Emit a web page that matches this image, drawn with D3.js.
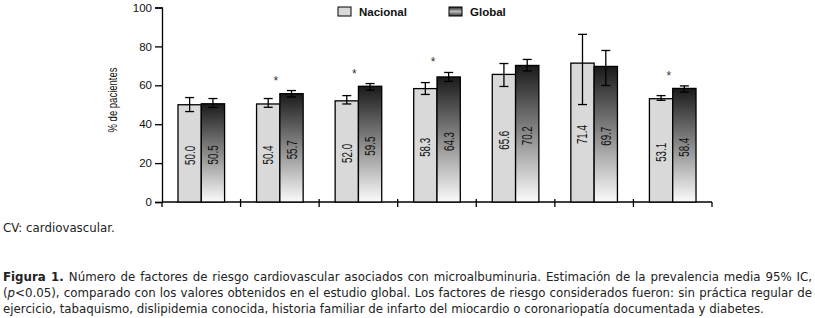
<!DOCTYPE html>
<html>
<head>
<meta charset="utf-8">
<script src="https://d3js.org/d3.v7.min.js"></script>
<style>
  body { margin: 0; background: #fff; }
  .tick-label { font-family: "Liberation Sans", Arial, sans-serif; font-size: 11.5px; fill: #111; }
  .legend-label { font-family: "Liberation Sans", Arial, sans-serif; font-size: 11.5px; font-weight: bold; fill: #111; }
  .bar-label { font-family: "Liberation Sans Narrow", "Liberation Sans", Arial, sans-serif; font-size: 15px; fill: #111; }
  .caption { font-family: "DejaVu Sans", Verdana, sans-serif; font-size: 11.8px; fill: #222; }
</style>
</head>
<body>
<div id="chart"></div>
<script>
// data
var categories = ["1", "2", "3", "4", "5", "6", "7"];
var series = ["Nacional", "Global"];
var nacional = [50.0, 50.4, 52.0, 58.3, 65.6, 71.4, 53.1];
var global = [50.5, 55.7, 59.5, 64.3, 70.2, 69.7, 58.4];
var nacionalLow = [46.5, 48.7, 50.4, 55.3, 59.4, 50.1, 52.3];
var nacionalHigh = [53.7, 53.2, 54.7, 61.4, 71.2, 86.2, 54.7];
var globalLow = [48.6, 54.0, 57.5, 62.0, 67.4, 59.9, 56.5];
var globalHigh = [53.2, 57.3, 60.9, 66.6, 73.3, 77.9, 59.7];
var significant = [false, true, true, true, false, false, true];
var yTicks = [0, 20, 40, 60, 80, 100];
var yLabel = "% de pacientes";
var footnote = "CV: cardiovascular.";
var captionLines = [
  [{b: "Figura 1. "}, {t: "Número de factores de riesgo cardiovascular asociados con microalbuminuria. Estimación de la prevalencia media 95% IC,"}],
  [{t: "("}, {i: "p"}, {t: "<0.05), comparado con los valores obtenidos en el estudio global. Los factores de riesgo considerados fueron: sin práctica regular de"}],
  [{t: "ejercicio, tabaquismo, dislipidemia conocida, historia familiar de infarto del miocardio o coronariopatía documentada y diabetes."}]
];

var W = 815, H = 318;
var mLeft = 162, mTop = 7.5, plotW = 550, plotH = 194.5;

var svg = d3.select("#chart").append("svg")
  .attr("width", W).attr("height", H);

var defs = svg.append("defs");
var grad = defs.append("linearGradient")
  .attr("id", "gloGrad").attr("x1", 0).attr("y1", 0).attr("x2", 0).attr("y2", 1);
grad.append("stop").attr("offset", "0%").attr("stop-color", "#1a1a1a");
grad.append("stop").attr("offset", "50%").attr("stop-color", "#8a8a8a");
grad.append("stop").attr("offset", "100%").attr("stop-color", "#fbfbfb");

var legGrad = defs.append("linearGradient")
  .attr("id", "legGrad").attr("x1", 0).attr("y1", 0).attr("x2", 0).attr("y2", 1);
legGrad.append("stop").attr("offset", "0%").attr("stop-color", "#222");
legGrad.append("stop").attr("offset", "50%").attr("stop-color", "#bbb");
legGrad.append("stop").attr("offset", "100%").attr("stop-color", "#333");

var g = svg.append("g").attr("transform", "translate(" + mLeft + "," + mTop + ")");

var x = d3.scaleBand().domain(categories).range([0, plotW]).paddingInner(0).paddingOuter(0);
var x1 = d3.scaleBand().domain(series).range([0, 46.6]);
var groupOff = (x.bandwidth() - 46.6) / 2;
var y = d3.scaleLinear().domain([0, 100]).range([plotH, 0]);

// y axis
var yAxis = d3.axisLeft(y).tickValues(yTicks).tickSize(7).tickPadding(3);
var ya = g.append("g").call(yAxis);
ya.select(".domain").attr("stroke", "#000").attr("stroke-width", 1.3);
ya.selectAll(".tick line").attr("stroke", "#000").attr("stroke-width", 1.3);
ya.selectAll(".tick text").attr("class", "tick-label").attr("font-size", null).attr("font-family", null);

// x axis baseline and category boundary ticks
g.append("line").attr("x1", 0).attr("x2", plotW).attr("y1", y(0)).attr("y2", y(0))
  .attr("stroke", "#000").attr("stroke-width", 1.3);
g.selectAll(".xtick").data(d3.range(categories.length + 1)).enter().append("line")
  .attr("class", "xtick")
  .attr("x1", d => d * x.bandwidth()).attr("x2", d => d * x.bandwidth())
  .attr("y1", (d, i) => (i === 0 || i === categories.length) ? y(0) : y(0) - 3)
  .attr("y2", y(0) + 5)
  .attr("stroke", "#000").attr("stroke-width", 1.3);

// bars
var rows = categories.map((c, i) => ({
  c: c,
  vals: [
    {s: "Nacional", v: nacional[i], lo: nacionalLow[i], hi: nacionalHigh[i]},
    {s: "Global", v: global[i], lo: globalLow[i], hi: globalHigh[i]}
  ]
}));

var grp = g.selectAll(".grp").data(rows).enter().append("g")
  .attr("transform", d => "translate(" + (x(d.c) + groupOff) + ",0)");

grp.selectAll("rect").data(d => d.vals).enter().append("rect")
  .attr("x", d => x1(d.s))
  .attr("width", x1.bandwidth())
  .attr("y", d => y(d.v))
  .attr("height", d => y(0) - y(d.v))
  .attr("fill", d => d.s === "Nacional" ? "#d9d9d9" : "url(#gloGrad)")
  .attr("stroke", "#000").attr("stroke-width", 1.3);

// value labels rotated inside bars
grp.selectAll(".bar-label").data(d => d.vals).enter().append("text")
  .attr("class", "bar-label")
  .attr("transform", d => "translate(" + (x1(d.s) + x1.bandwidth() / 2 + 5) + "," + ((y(d.v) + y(0)) / 2 + 2) + ") rotate(-90)")
  .attr("text-anchor", "middle")
  .attr("textLength", 19).attr("lengthAdjust", "spacingAndGlyphs")
  .text(d => d.v.toFixed(1));

// error bars
var eb = grp.selectAll(".eb").data(d => d.vals).enter().append("g")
  .attr("transform", d => "translate(" + (x1(d.s) + x1.bandwidth() / 2) + ",0)");
eb.append("line").attr("x1", 0).attr("x2", 0)
  .attr("y1", d => y(d.lo)).attr("y2", d => y(d.hi))
  .attr("stroke", "#000").attr("stroke-width", 1.3);
eb.append("line").attr("x1", -4.5).attr("x2", 4.5)
  .attr("y1", d => y(d.hi)).attr("y2", d => y(d.hi))
  .attr("stroke", "#000").attr("stroke-width", 1.3);
eb.append("line").attr("x1", -4.5).attr("x2", 4.5)
  .attr("y1", d => y(d.lo)).attr("y2", d => y(d.lo))
  .attr("stroke", "#000").attr("stroke-width", 1.3);

// significance stars
g.selectAll(".star").data(categories.filter((c, i) => significant[i])).enter().append("text")
  .attr("x", c => x(c) + x.bandwidth() / 2 - 4)
  .attr("y", c => y(globalHigh[categories.indexOf(c)]) - 13 + 7)
  .attr("text-anchor", "middle")
  .attr("font-family", "Liberation Sans, Arial, sans-serif")
  .attr("font-size", 12).attr("fill", "#333")
  .text("*");

// y label
svg.append("text")
  .attr("transform", "translate(117,100) rotate(-90)")
  .attr("text-anchor", "middle")
  .attr("font-family", "Liberation Sans Narrow, Liberation Sans, Arial, sans-serif")
  .attr("font-size", 12).attr("fill", "#111")
  .attr("textLength", 65).attr("lengthAdjust", "spacingAndGlyphs")
  .text(yLabel);

// legend
var legX = [338, 449];
var leg = svg.selectAll(".leg").data(series).enter().append("g")
  .attr("transform", (d, i) => "translate(" + legX[i] + ",7)");
leg.append("rect").attr("width", 13).attr("height", 9)
  .attr("fill", (d, i) => i === 0 ? "#d9d9d9" : "url(#legGrad)")
  .attr("stroke", "#000").attr("stroke-width", 1);
leg.append("text").attr("class", "legend-label")
  .attr("x", 21).attr("y", 9).text(d => d);

// footnote and caption
svg.append("text").attr("class", "caption").attr("x", 3).attr("y", 232).text(footnote);

var capY = [281, 297, 313];
captionLines.forEach(function(parts, li) {
  var t = svg.append("text").attr("class", "caption").attr("x", 3).attr("y", capY[li]);
  parts.forEach(function(p) {
    var ts = t.append("tspan");
    if (p.b) ts.attr("font-weight", "bold").text(p.b);
    else if (p.i) ts.attr("font-style", "italic").text(p.i);
    else ts.text(p.t);
  });
  if (li < captionLines.length - 1) {
    var natural = t.node().getComputedTextLength();
    var spaces = parts.map(p => (p.b || p.i || p.t)).join("").split(" ").length - 1;
    var extra = (809 - natural) / spaces;
    t.attr("word-spacing", extra);
  }
});
</script>
</body>
</html>
